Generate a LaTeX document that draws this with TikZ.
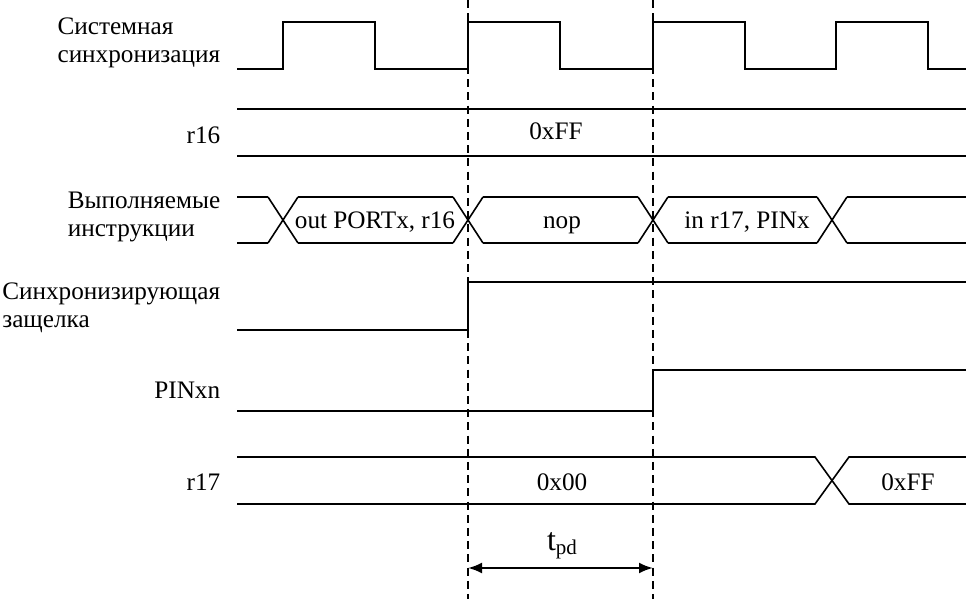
\documentclass[tikz,border=0pt]{standalone}
\usepackage{fontspec}
\setmainfont{Liberation Serif}
\usetikzlibrary{arrows.meta}

\begin{document}
\begin{tikzpicture}[x = 0.5pt, y = -0.5pt, line width = 0.8pt,
		sig/.style = {line join = miter},
		guide/.style = {dash pattern = on 4pt off 2.6pt, line width = 0.7pt},
		lbl/.style = {font = \fontsize{12.6}{14}\selectfont, inner sep = 0pt, align = left},
		val/.style = {font = \fontsize{12.6}{14}\selectfont, inner sep = 0pt, anchor = base}]
			\useasboundingbox (0, 0) rectangle (966, 599);

			% signal names
			\node[lbl, anchor = east] (clk)   at (221, 43)  {Системная\\синхронизация};
			\node[lbl, anchor = base east] (r16) at (221, 144) {r16};
			\node[lbl, anchor = east] (instr) at (221, 217) {Выполняемые\\инструкции};
			\node[lbl, anchor = east] (latch) at (221, 308) {Синхронизирующая\\защелка};
			\node[lbl, anchor = base east] (pin) at (221, 399) {PINxn};
			\node[lbl, anchor = base east] (r17) at (221, 491) {r17};

			% system clock
			\draw[sig] (237, 69) \foreach \r in {283, 468, 653, 836} {
				-- (\r, 69) -- (\r, 22) -- (\r + 92, 22) -- (\r + 92, 69)
			} -- (966, 69);

			% r16
			\draw (237, 109) -- (966, 109);
			\draw (237, 156) -- (966, 156);
			\node[val] (r16v) at (556, 140) {0xFF};

			% instructions bus
			\foreach \c in {283, 468, 653, 832} {
				\draw (\c - 15, 197) -- (\c + 15, 243);
				\draw (\c - 15, 243) -- (\c + 15, 197);
			}
			\foreach \a/\b in {237/268, 298/453, 483/638, 668/817, 847/966} {
				\draw (\a, 197) -- (\b, 197);
				\draw (\a, 243) -- (\b, 243);
			}
			\node[val] (i1) at (375, 229) {out PORTx, r16};
			\node[val] (i2) at (562, 229) {nop};
			\node[val] (i3) at (747, 229) {in r17, PINx};

			% latch and pin
			\draw[sig] (237, 330) -- (468, 330) -- (468, 282) -- (966, 282);
			\draw[sig] (237, 411) -- (653, 411) -- (653, 370) -- (966, 370);

			% r17
			\draw (237, 457) -- (815, 457) -- (849, 504) -- (966, 504);
			\draw (237, 504) -- (815, 504) -- (849, 457) -- (966, 457);
			\node[val] (r17a) at (562, 491) {0x00};
			\node[val] (r17b) at (908, 491) {0xFF};

			% guides and delay
			\foreach \x in {468, 653} {
				\draw[guide] (\x, 0) -- (\x, 599);
			}
			\coordinate (ta) at (468, 568);
			\coordinate (tb) at (653, 568);
			\draw[line width = 1.1pt, {Latex[length = 7pt, width = 5.5pt]}-{Latex[length = 7pt, width = 5.5pt]}] (ta) -- (tb);
			\node[inner sep = 0pt] (tpd) at (562, 546) {\fontsize{16}{16}\selectfont t\raisebox{-0.25ex}{\fontsize{10.5}{10.5}\selectfont pd}};
		\end{tikzpicture}
\end{document}
